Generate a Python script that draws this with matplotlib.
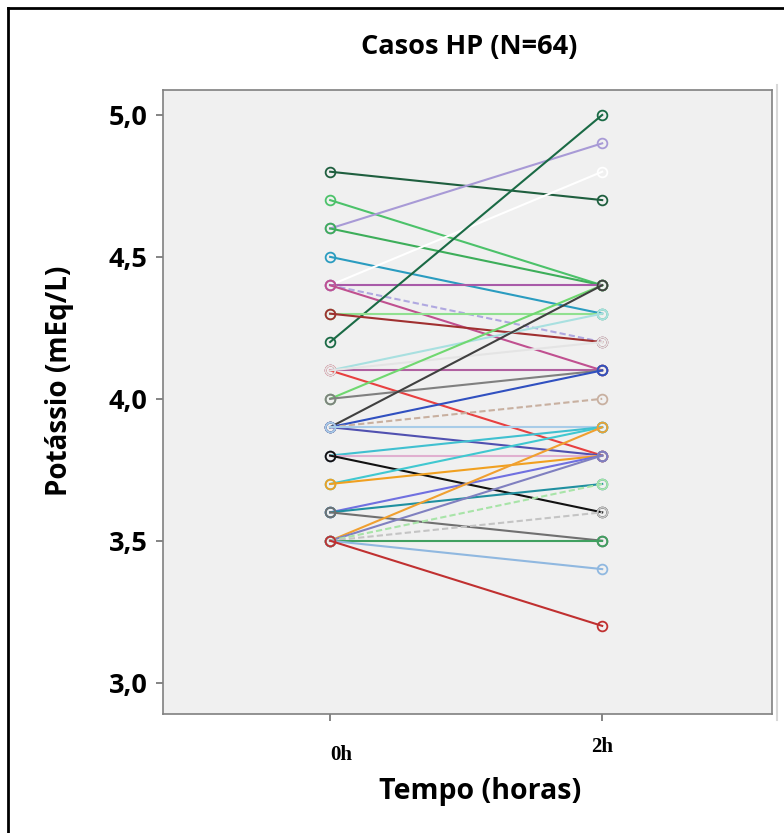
import matplotlib.pyplot as plt
from matplotlib.transforms import blended_transform_factory
from matplotlib.lines import Line2D

# potássio at 0h and 2h for each case line
k_0h = [4.8, 4.7, 4.6, 4.6, 4.5, 4.4, 4.4, 4.4, 4.4, 4.2,
        4.3, 4.3, 4.1, 4.1, 4.1, 4.1, 4.0, 4.0, 3.9, 3.9,
        3.9, 3.9, 3.9, 3.8, 3.8, 3.8, 3.7, 3.7, 3.6, 3.6,
        3.6, 3.5, 3.5, 3.5, 3.5, 3.5, 3.5, 3.5]
k_2h = [4.7, 4.4, 4.9, 4.4, 4.3, 4.8, 4.4, 4.2, 4.1, 5.0,
        4.3, 4.2, 4.3, 4.1, 3.8, 4.2, 4.4, 4.1, 4.4, 4.1,
        4.0, 3.8, 3.9, 3.9, 3.8, 3.6, 3.9, 3.8, 3.8, 3.7,
        3.5, 3.9, 3.8, 3.7, 3.6, 3.5, 3.4, 3.2]
colors = ["#1f5f3f", "#4cc26a", "#a89ad6", "#3dae5a", "#2a9cc0", "#ffffff",
          "#a85aa8", "#b0a8e0", "#c05090", "#1a6a45", "#90e090", "#a03030",
          "#a8e0e0", "#b060a0", "#e84040", "#e4e4e4", "#70d870", "#808080",
          "#404040", "#3050c0", "#c8b0a0", "#5050b0", "#a8cce8", "#40c0d0",
          "#e0b0d0", "#111111", "#40c8d0", "#f0a020", "#7070e0", "#2090a0",
          "#707070", "#f0a030", "#8080c0", "#a8e4a8", "#c4c4c4", "#40a060",
          "#90b8e0", "#c03030"]
dashed = {7, 20, 33, 34}

times = [0, 1]
tick_names = ["0h", "2h"]
y_ticks = [3.0, 3.5, 4.0, 4.5, 5.0]
y_labels = ["3,0", "3,5", "4,0", "4,5", "5,0"]

fig = plt.figure(figsize=(7.84, 8.33), dpi=100)
ax = fig.add_axes([0.208, 0.143, 0.777, 0.749])
ax.set_facecolor("#f0f0f0")

for i, (a, b) in enumerate(zip(k_0h, k_2h)):
    ls = (0, (3, 1.5)) if i in dashed else "-"
    ax.plot(times, [a, b], color=colors[i], lw=1.5, ls=ls,
            marker="o", ms=7, mfc="none", mew=1.3, zorder=2)

ax.set_xlim(-0.614, 1.625)
ax.set_ylim(2.89, 5.088)
ax.set_yticks(y_ticks)
ax.set_yticklabels(y_labels, fontsize=19.5, fontweight="bold", family="Open Sans")
ax.set_xticks(times)
ax.set_xticklabels([])
ax.tick_params(axis="both", length=5, color="#707070", width=1.2)
ax.tick_params(axis="y", pad=6)
for s in ax.spines.values():
    s.set_color("#808080")
    s.set_linewidth(1.2)

trans = blended_transform_factory(ax.transData, fig.transFigure)
ax.text(times[0] + 0.04, 1 - 755 / 833, tick_names[0], transform=trans, ha="center", va="center",
        fontsize=15, fontweight="bold", family="Liberation Serif")
ax.text(times[1], 1 - 747 / 833, tick_names[1], transform=trans, ha="center", va="center",
        fontsize=15, fontweight="bold", family="Liberation Serif")

fig.text(59 / 784, 1 - 381 / 833, "Potássio (mEq/L)", rotation=90, ha="center", va="center",
         fontsize=20, fontweight="bold", family="Open Sans")
fig.text(480 / 784, 1 - 792 / 833, "Tempo (horas)", ha="center", va="center",
         fontsize=20.5, fontweight="bold", family="Open Sans")
fig.text(469 / 784, 1 - 47 / 833, "Casos HP (N=64)", ha="center", va="center",
         fontsize=19.5, fontweight="bold", family="Open Sans")

# frame around the figure
fig.add_artist(Line2D([8 / 784, 8 / 784], [0, 1 - 8 / 833], transform=fig.transFigure, color="black", lw=2))
fig.add_artist(Line2D([8 / 784, 1], [1 - 8 / 833, 1 - 8 / 833], transform=fig.transFigure, color="black", lw=2))
fig.add_artist(Line2D([777 / 784, 777 / 784], [1 - 720 / 833, 1 - 85 / 833], transform=fig.transFigure,
                      color="#d8d8d8", lw=1.5))

fig.savefig("out.png", dpi=100)
